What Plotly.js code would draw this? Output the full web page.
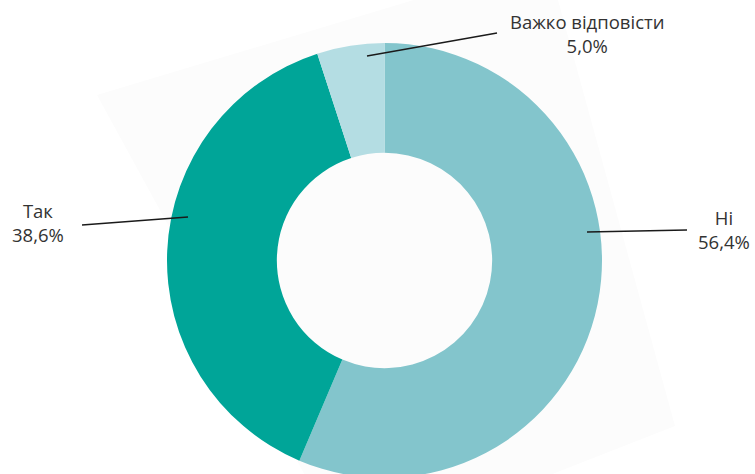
<!DOCTYPE html>
<html>
<head>
<meta charset="utf-8">
<script src="https://cdn.plot.ly/plotly-3.0.1.min.js"></script>
<style>
html,body{margin:0;padding:0;overflow:hidden;background:#fff;}
#chart{width:755px;height:480px;}
</style>
</head>
<body>
<div id="chart"></div>
<script>
// Data
var categories = ['Ні', 'Так', 'Важко відповісти'];
var values = [56.4, 38.6, 5.0];
var valueLabels = ['56,4%', '38,6%', '5,0%'];
var colors = ['#83c5cc', '#00a598', '#b4dde3'];

var W = 755, H = 480;
function px(x){ return x / W; }
function py(y){ return 1 - y / H; }

var trace = {
  type: 'pie',
  labels: categories,
  values: values,
  sort: false,
  direction: 'clockwise',
  rotation: 0,
  hole: 0.495,
  textinfo: 'none',
  hoverinfo: 'none',
  showlegend: false,
  marker: {colors: colors, line: {width: 0}},
  domain: {x: [px(167), px(602)], y: [py(478), py(43)]}
};

// label placement (layout, not data)
var labelPos = [
  {x: 724, y: 229, line: [[587, 232], [687, 230]]},
  {x: 38, y: 222, line: [[188, 217], [82, 225]]},
  {x: 587, y: 34, line: [[367, 56], [497, 33]]}
];

var annotations = categories.map(function(c, i){
  return {
    xref: 'paper', yref: 'paper',
    x: px(labelPos[i].x), y: py(labelPos[i].y),
    xanchor: 'center', yanchor: 'middle',
    text: c + '<br>' + valueLabels[i],
    showarrow: false,
    font: {family: 'Open Sans, sans-serif', size: 18.5, color: '#333333'}
  };
});

var shapes = [{
  type: 'path', xref: 'paper', yref: 'paper', layer: 'below',
  path: 'M ' + px(97) + ' ' + py(95) + ' L ' + px(547) + ' ' + py(-40) +
        ' L ' + px(675) + ' ' + py(426) + ' L ' + px(348) + ' ' + py(554) + ' Z',
  fillcolor: '#fcfcfc', line: {width: 0}
}];
labelPos.forEach(function(p){
  shapes.push({
    type: 'line', xref: 'paper', yref: 'paper', layer: 'above',
    x0: px(p.line[0][0]), y0: py(p.line[0][1]),
    x1: px(p.line[1][0]), y1: py(p.line[1][1]),
    line: {color: '#1a1a1a', width: 1.3}
  });
});

var layout = {
  width: W, height: H,
  margin: {l: 0, r: 0, t: 0, b: 0},
  paper_bgcolor: 'rgba(0,0,0,0)',
  plot_bgcolor: 'rgba(0,0,0,0)',
  annotations: annotations,
  shapes: shapes
};

Plotly.newPlot('chart', [trace], layout, {displayModeBar: false, staticPlot: true});
</script>
</body>
</html>
